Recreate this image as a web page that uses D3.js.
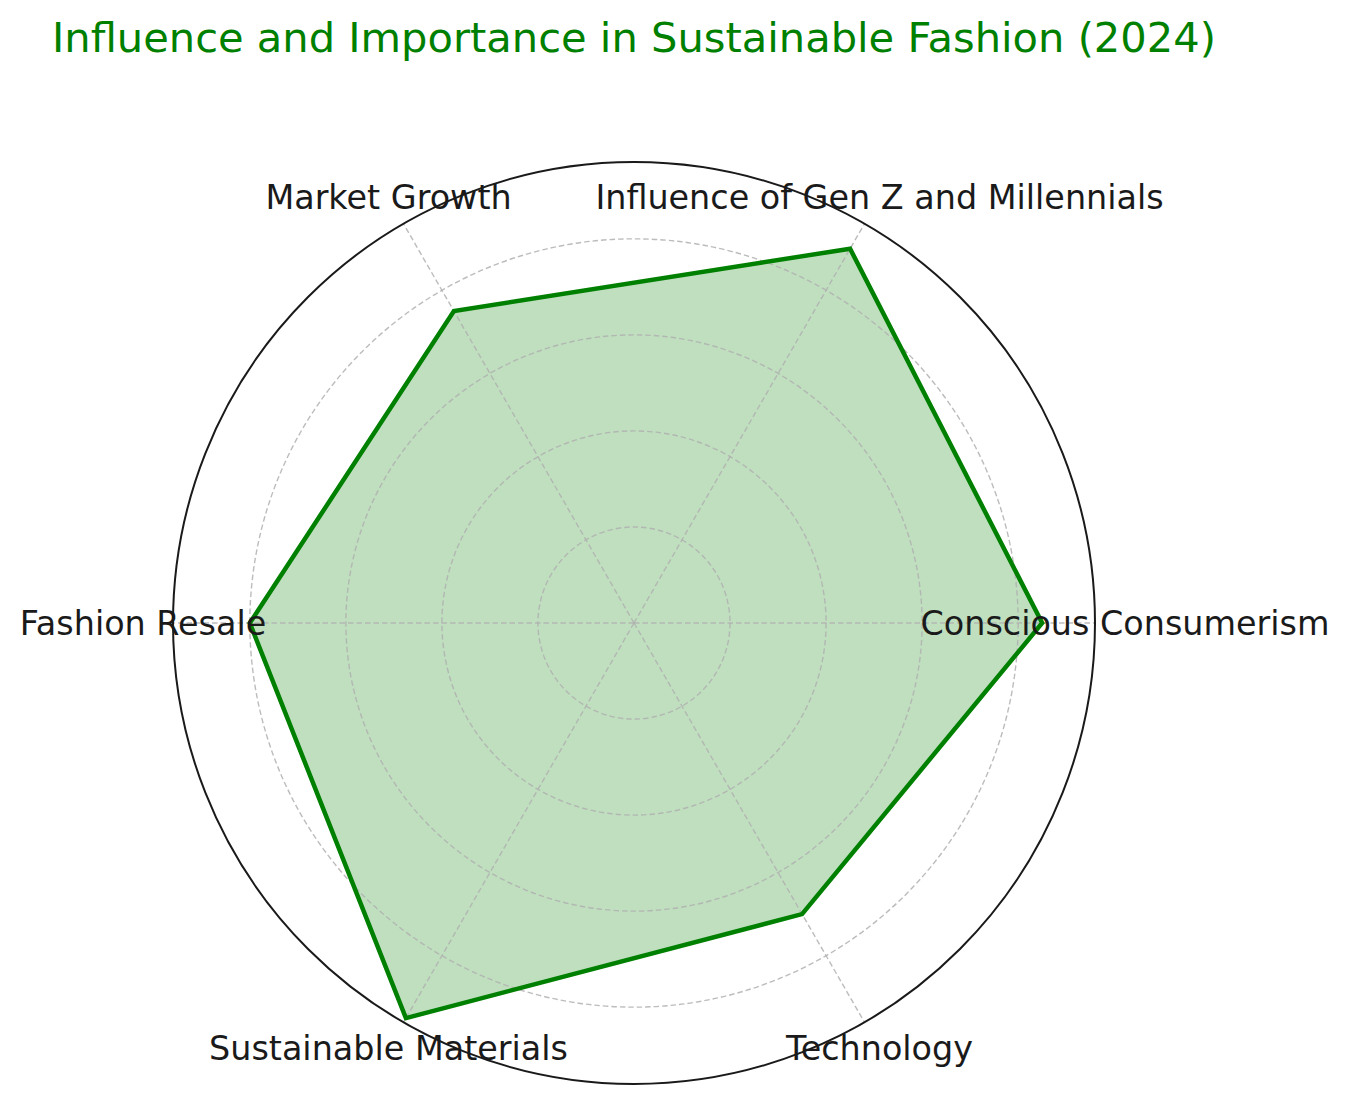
<!DOCTYPE html>
<html>
<head>
<meta charset="utf-8">
<script src="https://cdn.jsdelivr.net/npm/d3@7"></script>
<style>
  body { margin: 0; background: #fff; }
  text { font-family: "DejaVu Sans", sans-serif; }
</style>
</head>
<body>
<svg id="chart" width="1349" height="1106"></svg>
<script>
// データ
const categories = ["Conscious Consumerism", "Influence of Gen Z and Millennials", "Market Growth",
                    "Fashion Resale", "Sustainable Materials", "Technology"];
const values = [85, 90, 75, 80, 95, 70];
const gridTicks = [20, 40, 60, 80];
const rMax = 96;

const svg = d3.select("#chart");
const cx = 634, cy = 623, outerR = 461;

// タイトル
svg.append("text")
    .attr("x", 52).attr("y", 41)
    .attr("dominant-baseline", "middle")
    .attr("fill", "#008000")
    .attr("font-size", 41.6)
    .text("Influence and Importance in Sustainable Fashion (2024)");

const g = svg.append("g").attr("transform", `translate(${cx},${cy})`);

const r = d3.scaleLinear().domain([0, rMax]).range([0, outerR]);
const angle = d3.scalePoint().domain(categories).range([0, 2 * Math.PI * (categories.length - 1) / categories.length]);
// 反時計回り、0 は右
const px = (c, v) => r(v) * Math.cos(angle(c));
const py = (c, v) => -r(v) * Math.sin(angle(c));

// 塗りつぶし
const pts = categories.map((c, i) => [px(c, values[i]), py(c, values[i])]);
g.append("path")
    .attr("d", d3.line().curve(d3.curveLinearClosed)(pts))
    .attr("fill", "#008000")
    .attr("fill-opacity", 0.25)
    .attr("stroke", "none");

// グリッド円
g.selectAll("circle.grid")
    .data(gridTicks)
    .enter().append("circle")
    .attr("class", "grid")
    .attr("r", d => r(d))
    .attr("fill", "none")
    .attr("stroke", "#b0b0b0")
    .attr("stroke-opacity", 0.85)
    .attr("stroke-width", 1.4)
    .attr("stroke-dasharray", "5.5,3");

// 放射線
g.selectAll("line.spoke")
    .data(categories)
    .enter().append("line")
    .attr("class", "spoke")
    .attr("x1", 0).attr("y1", 0)
    .attr("x2", d => px(d, rMax))
    .attr("y2", d => py(d, rMax))
    .attr("stroke", "#b0b0b0")
    .attr("stroke-opacity", 0.85)
    .attr("stroke-width", 1.4)
    .attr("stroke-dasharray", "5.5,3");

// 外枠
g.append("circle")
    .attr("r", outerR)
    .attr("fill", "none")
    .attr("stroke", "#1a1a1a")
    .attr("stroke-width", 2);

// 線
g.append("path")
    .attr("d", d3.line().curve(d3.curveLinearClosed)(pts))
    .attr("fill", "none")
    .attr("stroke", "#008000")
    .attr("stroke-width", 4.5)
    .attr("stroke-linejoin", "miter");

// ラベル
const labelR = 491;
g.selectAll("text.label")
    .data(categories)
    .enter().append("text")
    .attr("class", "label")
    .attr("x", d => labelR * Math.cos(angle(d)))
    .attr("y", d => -labelR * Math.sin(angle(d)))
    .attr("text-anchor", "middle")
    .attr("dominant-baseline", "central")
    .attr("fill", "#1a1a1a")
    .attr("font-size", 33.4)
    .text(d => d);
</script>
</body>
</html>
